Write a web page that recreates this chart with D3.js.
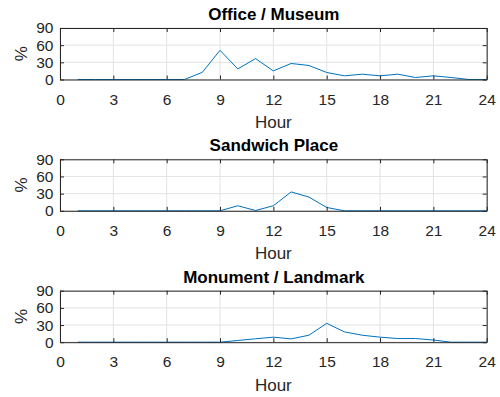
<!DOCTYPE html>
<html><head><meta charset="utf-8">
<script src="https://cdn.jsdelivr.net/npm/d3@7"></script>
<style>body{margin:0;background:#fff}svg{display:block}</style>
</head><body>
<script>
const hours = d3.range(1, 25);
const titles = ["Office / Museum", "Sandwich Place", "Monument / Landmark"];
const officeMuseum = [0,0,0,0,0,0,0,12.5,51,18.5,36.5,15,28,24.5,12.3,6.4,9.3,6.4,9.3,3.5,6.4,3.5,0,0];
const sandwichPlace = [0,0,0,0,0,0,0,0,0,8.8,0.5,8.8,33,24,5.8,0,0,0,0,0,0,0,0,0];
const monumentLandmark = [0,0,0,0,0,0,0,0,0,3,6,8.8,5.8,12.2,33,18,12.2,8.8,6.4,6.4,3.8,0,0,0];
const seriesList = [officeMuseum, sandwichPlace, monumentLandmark];
const xTicks = [0,3,6,9,12,15,18,21,24];
const yTicks = [0,30,60,90];

const W = 500, H = 397;
const svg = d3.select("body").append("svg").attr("width", W).attr("height", H);
const left = 60, right = 486.7;
const tops = [28, 159.3, 290.7];
const ph = 51.5;
const font = "'Liberation Sans', Arial, Helvetica, sans-serif";
const axisColor = "#262626";

const x = d3.scaleLinear().domain([0, 24]).range([left, right]);

tops.forEach((top, i) => {
  const y = d3.scaleLinear().domain([0, 90]).range([top + ph, top]);
  const g = svg.append("g");
  // grid
  g.selectAll(".gx").data(xTicks).join("line")
    .attr("x1", d => x(d)).attr("x2", d => x(d))
    .attr("y1", top).attr("y2", top + ph)
    .attr("stroke", "#e3e3e3").attr("stroke-width", 1);
  g.selectAll(".gy").data(yTicks).join("line")
    .attr("x1", left).attr("x2", right)
    .attr("y1", d => y(d)).attr("y2", d => y(d))
    .attr("stroke", "#e3e3e3").attr("stroke-width", 1);
  // line
  const line = d3.line().x((d, j) => x(hours[j])).y(d => y(d));
  g.append("path").datum(seriesList[i]).attr("d", line)
    .attr("fill", "none").attr("stroke", "#0072BD").attr("stroke-width", 1);
  // axes
  const xb = g.append("g").attr("transform", `translate(0,${top + ph})`)
    .call(d3.axisBottom(x).tickValues(xTicks).tickSize(-4).tickPadding(14).tickSizeOuter(0));
  const xt = g.append("g").attr("transform", `translate(0,${top})`)
    .call(d3.axisTop(x).tickValues(xTicks).tickSize(-4).tickFormat("").tickSizeOuter(0));
  const yl = g.append("g").attr("transform", `translate(${left},0)`)
    .call(d3.axisLeft(y).tickValues(yTicks).tickSize(-4).tickPadding(6.5).tickSizeOuter(0));
  const yr = g.append("g").attr("transform", `translate(${right},0)`)
    .call(d3.axisRight(y).tickValues(yTicks).tickSize(-4).tickFormat("").tickSizeOuter(0));
  [xb, xt, yl, yr].forEach(a => {
    a.selectAll("path").attr("stroke", axisColor).attr("stroke-width", 1);
    a.selectAll("line").attr("stroke", axisColor).attr("stroke-width", 1);
    a.selectAll("text").attr("fill", axisColor).style("font-family", font).style("font-size", "15.5px");
  });
  // title
  g.append("text").attr("x", (left + right) / 2 + 0.5).attr("y", top - 8)
    .attr("text-anchor", "middle").style("font-family", font).style("font-size", "17px")
    .style("font-weight", "bold").attr("fill", "#000").text(titles[i]);
  // xlabel
  g.append("text").attr("x", (left + right) / 2).attr("y", top + ph + 48.5)
    .attr("text-anchor", "middle").style("font-family", font).style("font-size", "17px")
    .attr("fill", axisColor).text("Hour");
  // ylabel
  g.append("text").attr("transform", `translate(${27},${top + ph / 2}) rotate(-90)`)
    .attr("text-anchor", "middle").style("font-family", font).style("font-size", "17px")
    .attr("fill", axisColor).text("%");
});
</script>
</body></html>
